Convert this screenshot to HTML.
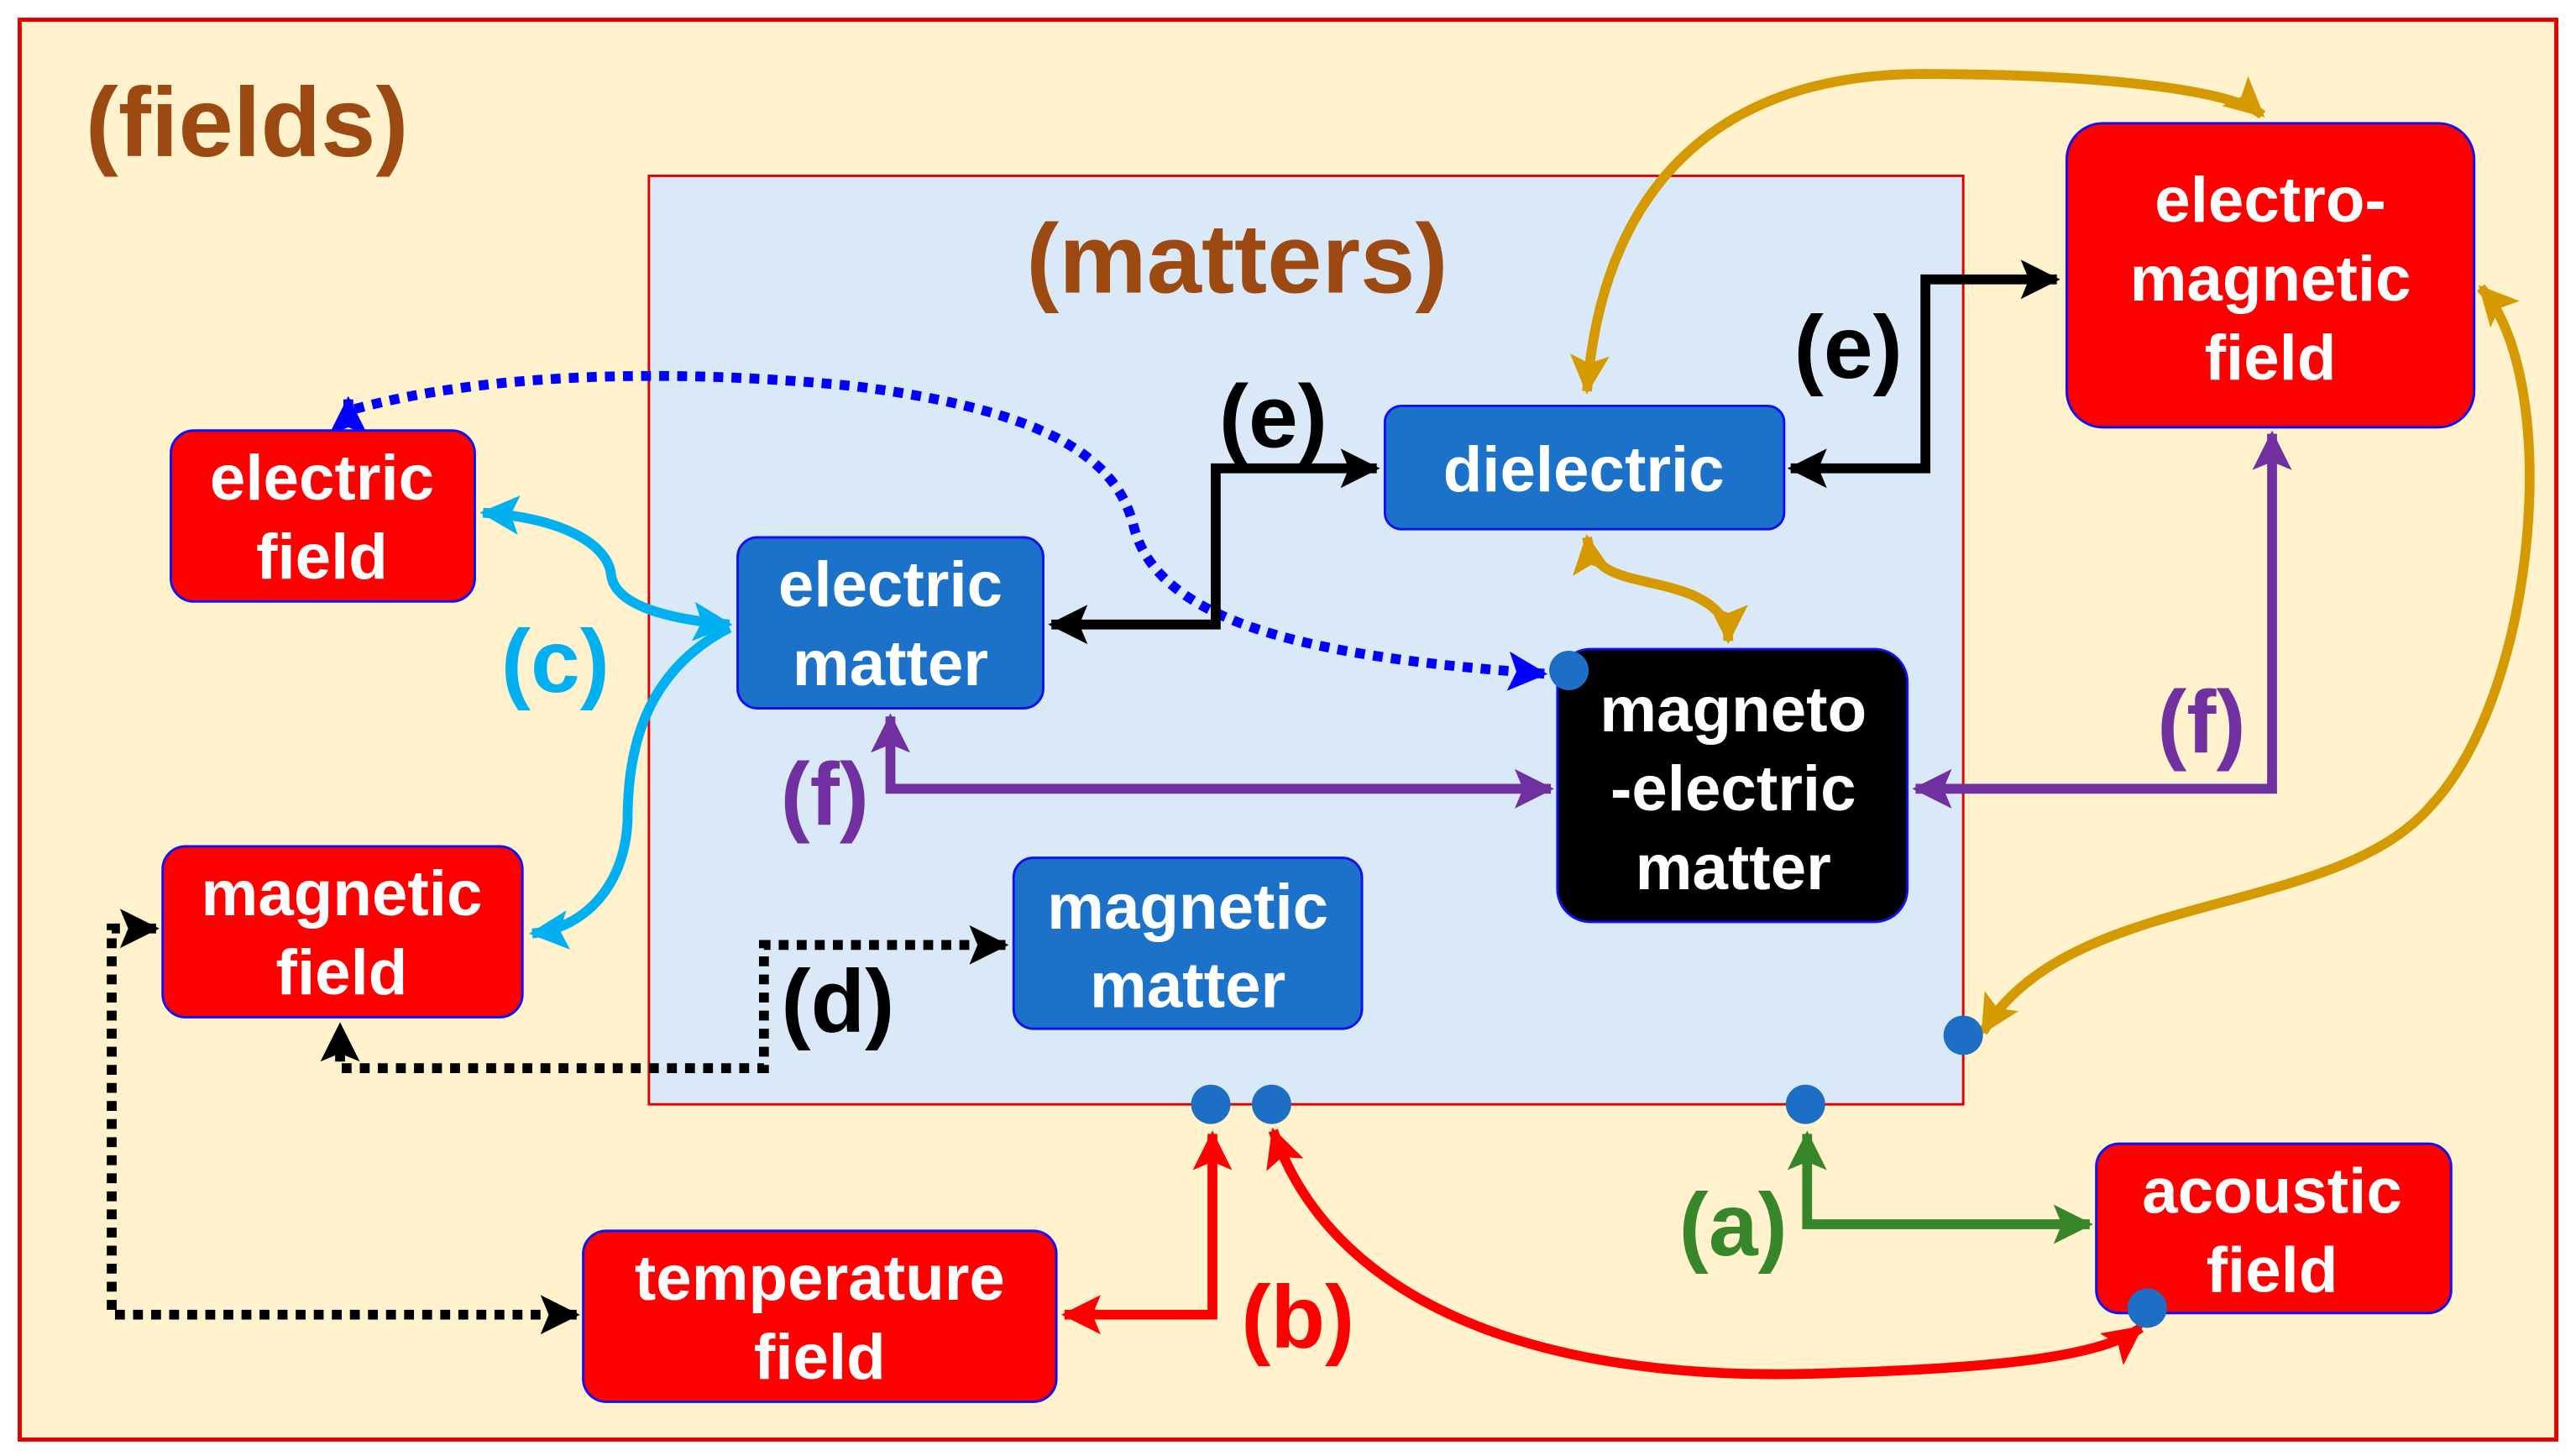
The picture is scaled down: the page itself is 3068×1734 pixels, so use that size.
<!DOCTYPE html>
<html><head><meta charset="utf-8"><style>
html,body{margin:0;padding:0;background:#fff;}
svg{display:block;}
text{font-family:"Liberation Sans",Arial,sans-serif;font-weight:bold;}
.w{fill:#fff;font-size:39px;text-anchor:middle;}
.l{font-size:54px;text-anchor:middle;}
</style></head><body>
<svg width="3068" height="1734" viewBox="0 0 1568 886" preserveAspectRatio="none" xmlns="http://www.w3.org/2000/svg">
<defs>
<marker id="ab" markerUnits="userSpaceOnUse" markerWidth="30" markerHeight="30" refX="22" refY="15" orient="auto-start-reverse"><path d="M0,3 L24,15 L0,27 L5,15z" fill="#000"/></marker>
<marker id="ac" markerUnits="userSpaceOnUse" markerWidth="30" markerHeight="30" refX="22" refY="15" orient="auto-start-reverse"><path d="M0,3 L24,15 L0,27 L5,15z" fill="#00B0F0"/></marker>
<marker id="ap" markerUnits="userSpaceOnUse" markerWidth="30" markerHeight="30" refX="22" refY="15" orient="auto-start-reverse"><path d="M0,3 L24,15 L0,27 L5,15z" fill="#7030A0"/></marker>
<marker id="ag" markerUnits="userSpaceOnUse" markerWidth="30" markerHeight="30" refX="22" refY="15" orient="auto-start-reverse"><path d="M0,3 L24,15 L0,27 L5,15z" fill="#D49A00"/></marker>
<marker id="ar" markerUnits="userSpaceOnUse" markerWidth="30" markerHeight="30" refX="22" refY="15" orient="auto-start-reverse"><path d="M0,3 L24,15 L0,27 L5,15z" fill="#FF0000"/></marker>
<marker id="agr" markerUnits="userSpaceOnUse" markerWidth="30" markerHeight="30" refX="22" refY="15" orient="auto-start-reverse"><path d="M0,3 L24,15 L0,27 L5,15z" fill="#38862A"/></marker>
<marker id="abl" markerUnits="userSpaceOnUse" markerWidth="30" markerHeight="30" refX="22" refY="15" orient="auto-start-reverse"><path d="M0,3 L24,15 L0,27 L5,15z" fill="#0000FF"/></marker>
</defs>
<rect x="0" y="0" width="1568" height="886" fill="#fff"/>
<rect x="12" y="12" width="1544" height="864" fill="#FFF2CC" stroke="#E00000" stroke-width="2.5"/>
<text x="52" y="95" font-size="60" fill="#9C4A12">(fields)</text>
<rect x="395" y="107" width="800" height="565" fill="#DAE9F7" stroke="#E00000" stroke-width="1.5"/>
<text x="753" y="178" font-size="60" fill="#9C4A12" text-anchor="middle">(matters)</text>

<g fill="none" stroke="#D49A00" stroke-width="6">
<path d="M966,238 C975,120 1040,45 1170,45 C1280,45 1360,55 1377,70" marker-start="url(#ag)" marker-end="url(#ag)"/>
<path d="M966,327 C970,355 1000,350 1030,362 C1048,370 1052,380 1052,390" marker-start="url(#ag)" marker-end="url(#ag)"/>
<path d="M1510,175 C1560,230 1545,420 1480,490 C1420,560 1260,540 1207,628" marker-start="url(#ag)" marker-end="url(#ag)"/>
</g>
<path d="M212,243 L212,250 C300,225 420,225 520,235 C640,250 680,280 690,320 C705,380 800,400 940,410" fill="none" stroke="#0000FF" stroke-width="6" stroke-dasharray="6,5" marker-start="url(#abl)" marker-end="url(#abl)"/>
<g fill="none" stroke="#00B0F0" stroke-width="6">
<path d="M294,312 C340,315 370,330 372,350 C375,372 420,378 444,380" marker-start="url(#ac)" marker-end="url(#ac)"/>
<path d="M444,382 C390,410 382,460 382,500 C380,540 355,565 324,568" marker-end="url(#ac)"/>
</g>
<g fill="none" stroke="#000" stroke-width="6">
<path d="M640,380 L740,380 L740,285 L838,285" marker-start="url(#ab)" marker-end="url(#ab)"/>
<path d="M1090,285 L1172,285 L1172,170 L1252,170" marker-start="url(#ab)" marker-end="url(#ab)"/>
</g>
<g fill="none" stroke="#000" stroke-width="6" stroke-dasharray="6,5">
<path d="M612,575 L465,575 L465,650 L207,650 L207,624" marker-start="url(#ab)" marker-end="url(#ab)"/>
<path d="M95,565 L68,565 L68,800 L351,800" marker-start="url(#ab)" marker-end="url(#ab)"/>
</g>
<g fill="none" stroke="#7030A0" stroke-width="6">
<path d="M542,436 L542,480 L944,480" marker-start="url(#ap)" marker-end="url(#ap)"/>
<path d="M1166,480 L1383,480 L1383,264" marker-start="url(#ap)" marker-end="url(#ap)"/>
</g>
<g fill="none" stroke="#FF0000" stroke-width="6">
<path d="M648,800 L738,800 L738,690" marker-start="url(#ar)" marker-end="url(#ar)"/>
<path d="M775,688 C810,790 930,840 1100,836 C1220,833 1280,825 1303,808" marker-start="url(#ar)" marker-end="url(#ar)"/>
</g>
<path d="M1100,690 L1100,745 L1272,745" fill="none" stroke="#38862A" stroke-width="6" marker-start="url(#agr)" marker-end="url(#agr)"/>

<g stroke="#1010F0" stroke-width="1.5">
<rect x="104" y="262" width="185" height="104" rx="14" fill="#FF0000"/>
<rect x="99" y="515" width="219" height="104" rx="14" fill="#FF0000"/>
<rect x="355" y="749" width="288" height="104" rx="14" fill="#FF0000"/>
<rect x="1276" y="696" width="216" height="103" rx="14" fill="#FF0000"/>
<rect x="1258" y="75" width="248" height="185" rx="22" fill="#FF0000"/>
<rect x="449" y="327" width="186" height="104" rx="12" fill="#1C72C8"/>
<rect x="843" y="247" width="243" height="75" rx="10" fill="#1C72C8"/>
<rect x="617" y="522" width="212" height="104" rx="12" fill="#1C72C8"/>
<rect x="948" y="395" width="213" height="166" rx="20" fill="#000"/>
</g>
<text class="w" x="196" y="304">electric</text><text class="w" x="196" y="352">field</text>
<text class="w" x="208" y="557">magnetic</text><text class="w" x="208" y="605">field</text>
<text class="w" x="499" y="791">temperature</text><text class="w" x="499" y="839">field</text>
<text class="w" x="1383" y="738">acoustic</text><text class="w" x="1383" y="786">field</text>
<text class="w" x="1382" y="135">electro-</text><text class="w" x="1382" y="183">magnetic</text><text class="w" x="1382" y="231">field</text>
<text class="w" x="542" y="369">electric</text><text class="w" x="542" y="417">matter</text>
<text class="w" x="964" y="299">dielectric</text>
<text class="w" x="723" y="565">magnetic</text><text class="w" x="723" y="613">matter</text>
<text class="w" x="1055" y="445">magneto</text><text class="w" x="1055" y="493">-electric</text><text class="w" x="1055" y="541">matter</text>

<text class="l" x="338" y="421" fill="#00B0F0">(c)</text>
<text class="l" x="775" y="272" fill="#000">(e)</text>
<text class="l" x="1125" y="230" fill="#000">(e)</text>
<text class="l" x="502" y="502" fill="#7030A0">(f)</text>
<text class="l" x="1340" y="458" fill="#7030A0">(f)</text>
<text class="l" x="510" y="628" fill="#000">(d)</text>
<text class="l" x="790" y="820" fill="#FF0000">(b)</text>
<text class="l" x="1055" y="764" fill="#38862A">(a)</text>

<g fill="#1C6FC4">
<circle cx="737" cy="672" r="12"/><circle cx="774" cy="672" r="12"/><circle cx="1099" cy="672" r="12"/>
<circle cx="1195" cy="630" r="12"/><circle cx="1307" cy="796" r="12"/><circle cx="955" cy="408" r="12"/>
</g>
</svg>
</body></html>
